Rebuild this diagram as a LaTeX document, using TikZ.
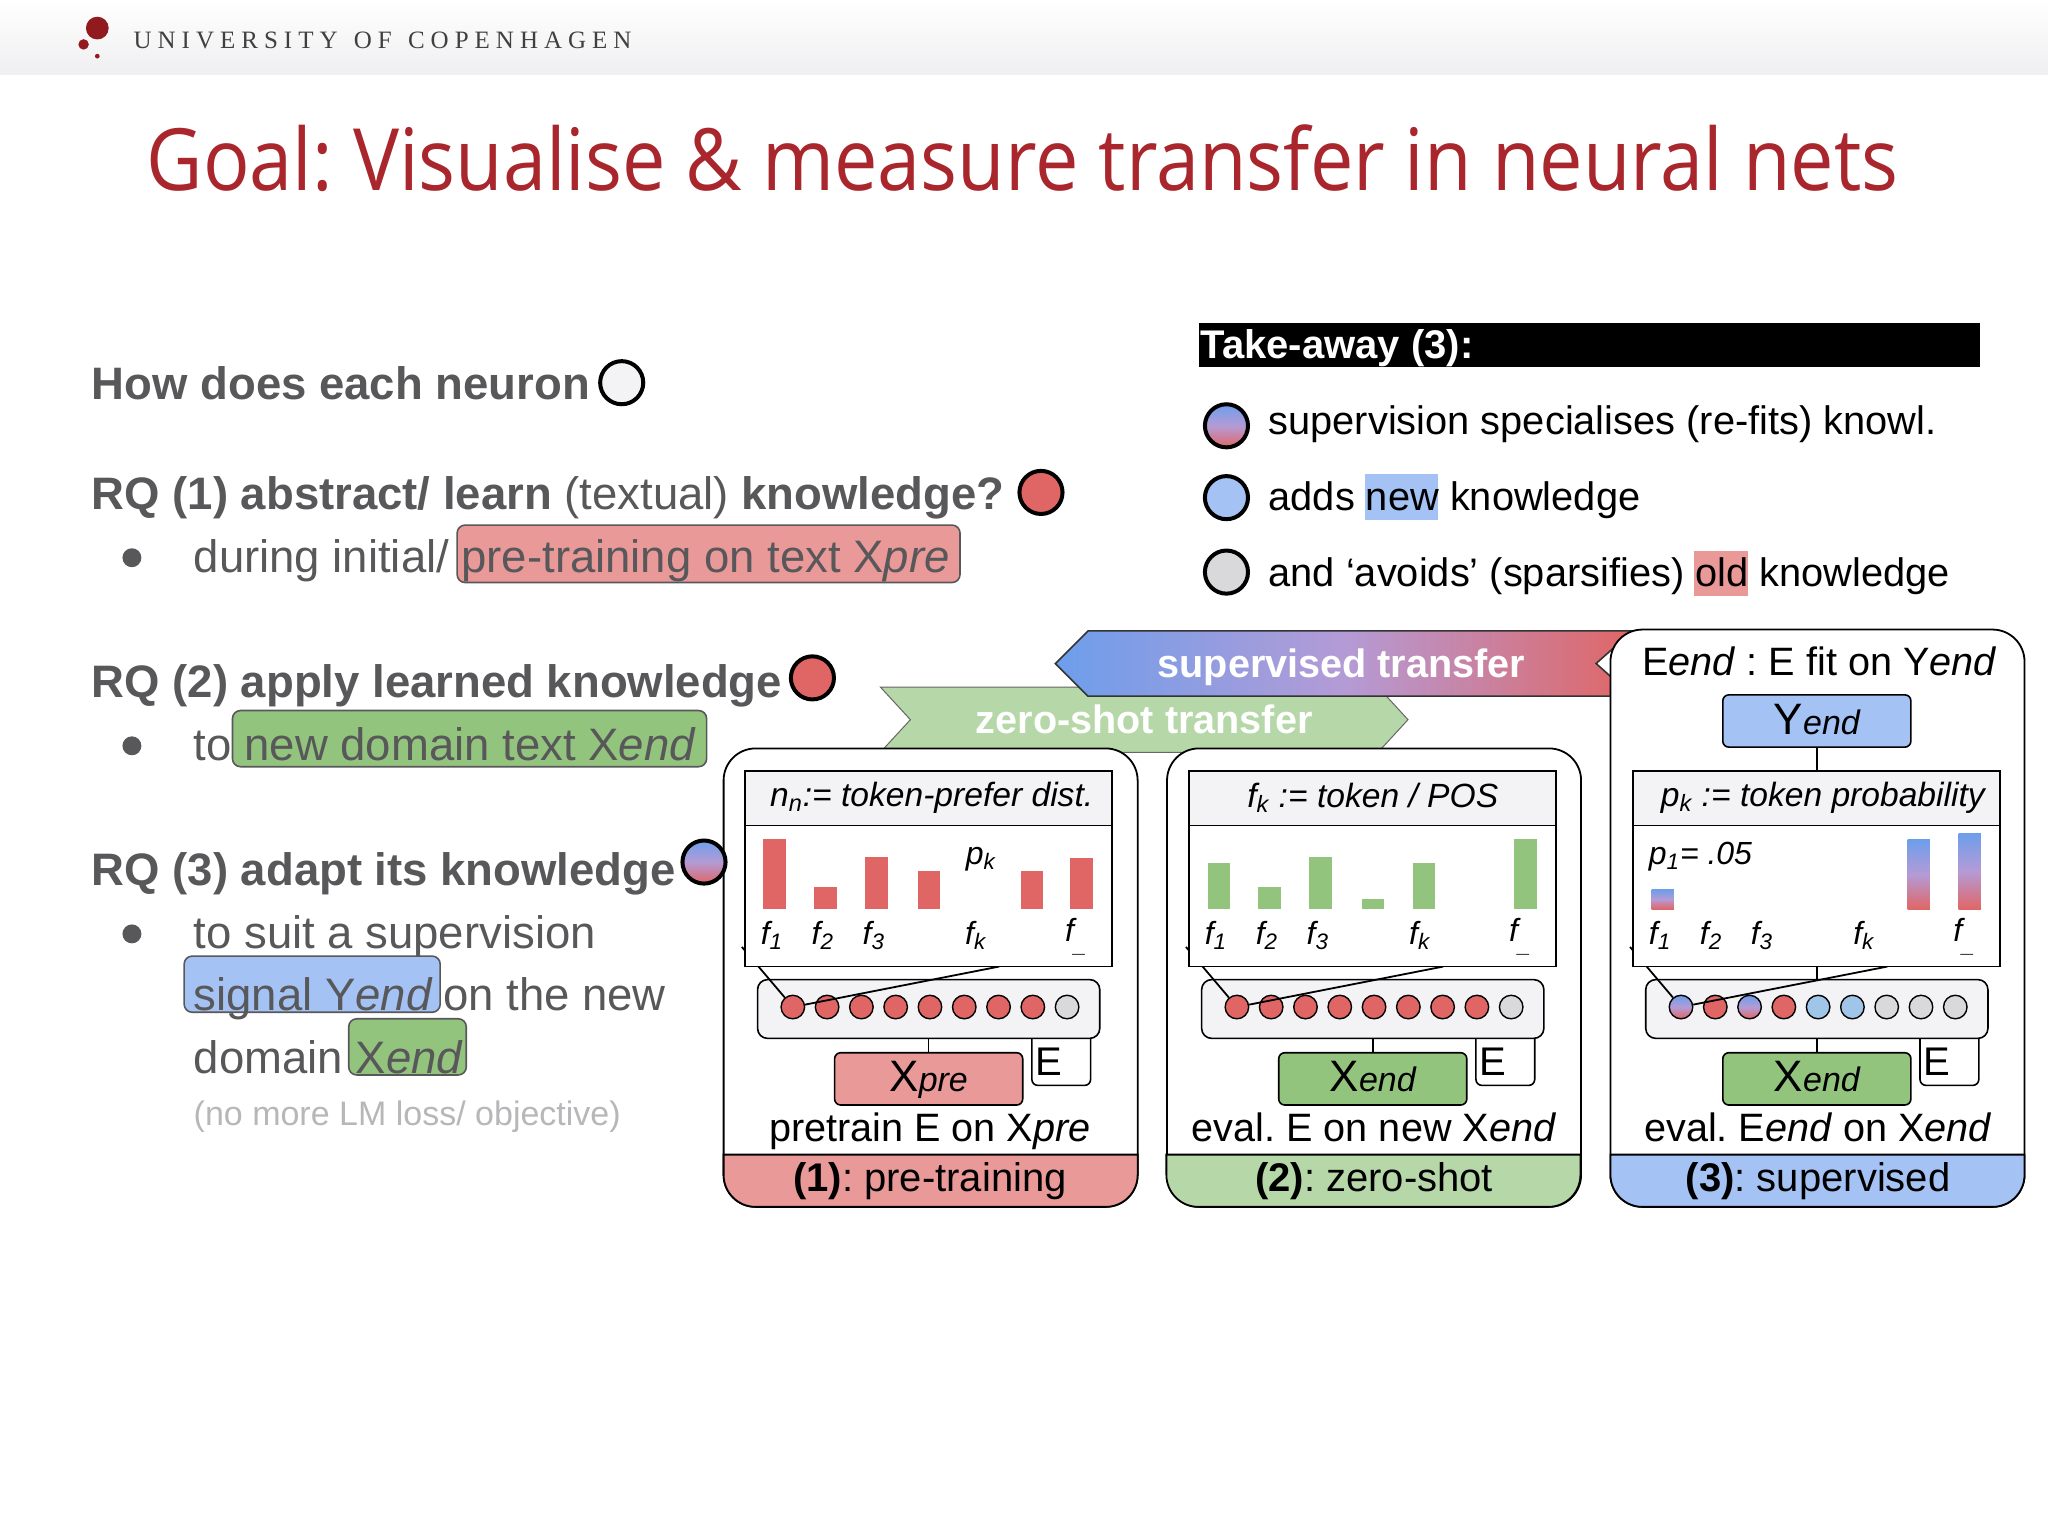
\documentclass[tikz,border=0pt]{standalone}
\usepackage{fontspec}
\setmainfont{Liberation Sans}
\newfontfamily\titlefont{Open Sans}
\newfontfamily\kufont[LetterSpace=24]{Liberation Serif}
\usetikzlibrary{positioning}
\AtBeginDocument{\frenchspacing}

\definecolor{kured}{HTML}{901A1E}
\definecolor{titlered}{HTML}{A8262C}
\definecolor{textgray}{HTML}{58585A}
\definecolor{softgray}{HTML}{B7B7B9}
\definecolor{prered}{HTML}{EA9999}
\definecolor{barred}{HTML}{E06666}
\definecolor{endgreen}{HTML}{93C47D}
\definecolor{lightgreen}{HTML}{B6D7A8}
\definecolor{ylabel}{HTML}{A4C2F4}
\definecolor{gradblue}{HTML}{6D9EEB}
\definecolor{gradmid}{HTML}{B49BD6}
\definecolor{nblueish}{HTML}{9FC5E8}
\definecolor{boxgray}{HTML}{F3F3F5}
\definecolor{bandgray}{HTML}{EFEFF1}
\definecolor{ngrayish}{HTML}{D9D9DB}

\newcommand{\ux}{0.65306pt}
\newcommand{\sufx}[1]{{\fontsize{17}{20}\selectfont\itshape #1}}

\tikzset{
  lefttext/.style={anchor=base west, inner sep=0pt, yshift=-0.65pt, text=textgray, font=\fontsize{22.75}{26}\selectfont},
  taketext/.style={anchor=base west, inner sep=0pt, font=\fontsize{19.9}{23}\selectfont},
  hlbox/.style={draw=textgray, rounded corners=4pt, line width=0.8pt, inner sep=0pt},
  flatbox/.style={inner sep=0pt},
  bigdot/.style={circle, draw=black, line width=2pt, minimum size=33*\ux, inner sep=0pt},
  bulletdot/.style={circle, fill=textgray, minimum size=14.5*\ux, inner sep=0pt},
  gradfill/.style={top color=gradblue, bottom color=barred, middle color=gradmid},
  panelbox/.style={draw=black, fill=white, line width=0.9pt, rounded corners=16pt, minimum width=317*\ux, inner sep=0pt},
  encbox/.style={draw=black, fill=boxgray, line width=0.8pt, rounded corners=5pt, minimum width=262*\ux, minimum height=45*\ux, inner sep=0pt},
  databox/.style={draw=black, line width=0.8pt, rounded corners=3pt, minimum width=144*\ux, minimum height=40*\ux, inner sep=0pt},
  datatextstyle/.style={anchor=base, inner sep=0pt, font=\fontsize{22}{24}\selectfont},
  ebox/.style={draw=black, fill=white, line width=0.8pt, rounded corners=3pt, minimum width=45*\ux, minimum height=46*\ux, inner sep=0pt},
  headbox/.style={draw=black, fill=boxgray, line width=0.9pt, minimum width=281*\ux, minimum height=42*\ux, inner sep=0pt, font=\itshape\fontsize{16.8}{20}\selectfont},
  lowbox/.style={draw=black, fill=white, line width=0.9pt, minimum width=281*\ux, minimum height=108*\ux, inner sep=0pt},
  flabel/.style={inner sep=0pt, font=\itshape\fontsize{16}{19}\selectfont},
  captext/.style={anchor=base, inner sep=0pt, font=\fontsize{19.8}{24}\selectfont},
  neuron/.style={circle, draw=black, line width=0.7pt, minimum size=18*\ux, inner sep=0pt},
  nred/.style={fill=barred}, ngray/.style={fill=ngrayish}, nblue/.style={fill=nblueish}, ngrad/.style={gradfill},
  redbar/.style={fill=barred}, greenbar/.style={fill=endgreen}, gradbar/.style={gradfill},
  bannertext/.style={inner sep=0pt, text=white, font=\bfseries\fontsize{19.8}{24}\selectfont}
}

\begin{document}
\begin{tikzpicture}[x=0.65306pt, y=-0.65306pt]

\useasboundingbox (0,0) rectangle (1568,1176);

% Header band
\shade[top color=white, bottom color=bandgray] (0,0) rectangle (1568,57);
\fill[kured] (74.5,21.5) circle [radius=8.7];
\fill[kured] (64,34) circle [radius=4];
\fill[kured] (74.5,43) circle [radius=1.8];
\node[anchor=base west, inner sep=0pt, text=black!75, font=\kufont\fontsize{12.5}{15}\selectfont] (unilabel) at (102,37.5) {UNIVERSITY\hspace{2pt} OF\hspace{2pt} COPENHAGEN};
\node[anchor=base west, inner sep=0pt, text=titlered, font=\titlefont\fontsize{43}{50}\selectfont] (title) at (112,146) {\scalebox{0.9}[1]{Goal: Visualise \& measure transfer in neural nets}};

% Research questions
\node[lefttext] (howtext) at (70,305) {\textbf{How does each neuron}};
\node[bigdot, fill=boxgray] (howdot) at (476,293) {};

\node[lefttext] (rq1) at (70,389) {\textbf{RQ (1) abstract/ learn} (textual) \textbf{knowledge?}};
\node[bigdot, fill=barred] (rq1dot) at (797,377) {};
\node[bulletdot] (bul1) at (101,427) {};
\node[lefttext] (rq1a) at (148,437) {during initial/};
\node[hlbox, fill=prered, minimum width=385*\ux, minimum height=44*\ux] (hlpre) at (542.5,424) {};
\node[lefttext] (rq1b) at (353,437) {pre-training on text X\textit{pre}};

\node[lefttext] (rq2) at (70,533) {\textbf{RQ (2) apply learned knowledge}};
\node[bigdot, fill=barred] (rq2dot) at (622,519) {};
\node[bulletdot] (bul2) at (101,571) {};
\node[lefttext] (rq2a) at (148,581) {to};
\node[hlbox, fill=endgreen, minimum width=363*\ux, minimum height=43*\ux] (hlend) at (359.5,565.5) {};
\node[lefttext] (rq2b) at (187,581) {new domain text X\textit{end}};

\node[lefttext] (rq3) at (70,677) {\textbf{RQ (3) adapt its knowledge}};
\node[bulletdot] (bul3) at (101,715) {};
\node[lefttext] (rq3a) at (148,725) {to suit a supervision};
\node[hlbox, fill=ylabel, minimum width=196*\ux, minimum height=43*\ux] (hlsig) at (239,753.5) {};
\node[lefttext] (rq3b) at (148,773) {signal Y\textit{end}};
\node[lefttext] (rq3c) at (339,773) {on the new};
\node[lefttext] (rq3d) at (148,821) {domain};
\node[hlbox, fill=endgreen, minimum width=90*\ux, minimum height=43*\ux] (hlx) at (312,801.5) {};
\node[lefttext] (rq3e) at (272,821) {X\textit{end}};
\node[lefttext, text=softgray, font=\fontsize{17}{20}\selectfont] (rq3f) at (148,861) {(no more LM loss/ objective)};

% Take-away
\node[flatbox, fill=black, minimum width=598*\ux, minimum height=34*\ux] (takebar) at (1217,264) {};
\node[anchor=base west, inner sep=0pt, text=white, font=\bfseries\fontsize{20}{23}\selectfont] (taketitle) at (919,274.5) {Take-away (3):};
\node[bigdot, gradfill] (takedot1) at (939,326) {};
\node[taketext] (take1) at (971,333) {supervision specialises (re-fits) knowl.};
\node[flatbox, fill=ylabel, minimum width=56*\ux, minimum height=35*\ux] (hlnew) at (1073,380.5) {};
\node[bigdot, fill=ylabel] (takedot2) at (939,381) {};
\node[taketext] (take2) at (971,391) {adds new knowledge};
\node[flatbox, fill=prered, minimum width=41*\ux, minimum height=34*\ux] (hlold) at (1317.5,439) {};
\node[bigdot, fill=ngrayish] (takedot3) at (939,438) {};
\node[taketext] (take3) at (971,449) {and ‘avoids’ (sparsifies) old knowledge};

% Transfer banners
\draw[draw=black!60, line width=0.5pt, fill=lightgreen] (674,526) -- (1055,526) -- (1078,551) -- (1055,576) -- (674,576) -- (697,551) -- cycle;
\node[bannertext] (zerotext) at (876,551) {zero-shot transfer};
\draw[draw=black!80, line width=0.8pt, left color=gradblue, right color=barred, middle color=gradmid] (808,508) -- (833,483) -- (1250,483) -- (1222,508) -- (1250,533) -- (833,533) -- cycle;
\node[bannertext] (suptext) at (1027,511) {supervised transfer};

\node[panelbox, minimum height=351*\ux] (panel1) at (712.5,748.5) {};
\node[panelbox, minimum height=351*\ux] (panel2) at (1052,748.5) {};
\node[panelbox, minimum height=442*\ux] (panel3) at (1391.5,703) {};

\node[bigdot, gradfill] (rq3dot) at (539,660) {};

% Panels
\foreach \p/\dx/\stripcol/\datacol/\datatext/\headtext/\captext/\num/\striptext/\barstyle/\bars/\neurons in {
  1/0/prered/prered/{X\sufx{pre}}/{\hspace{3pt}n\textsubscript{n}:= token-prefer dist.}/{pretrain E on X\textit{pre}}/1/{pre-training}/redbar/{593/642,632/679,671/656,711/667,790/667,828/657}/{1/nred,2/nred,3/nred,4/nred,5/nred,6/nred,7/nred,8/nred,9/ngray},
  2/340/lightgreen/endgreen/{X\sufx{end}}/{f\textsubscript{k} := token / POS}/{eval. E on new X\textit{end}}/2/{zero-shot}/greenbar/{593/661,632/679,671/656,711/688,750/661,828/642}/{1/nred,2/nred,3/nred,4/nred,5/nred,6/nred,7/nred,8/nred,9/ngray},
  3/680/ylabel/endgreen/{X\sufx{end}}/{\hspace{6pt}p\textsubscript{k} := token probability}/{eval. E\textit{end} on X\textit{end}}/3/{supervised}/gradbar/{593/681,789/643,828/638}/{1/ngrad,2/nred,3/ngrad,4/nred,5/nblue,6/nblue,7/ngray,8/ngray,9/ngray}} {

  % strip along the bottom of the panel
  \pgfmathsetmacro{\sl}{554+\dx-min(\p-1,1)}
  \pgfmathsetmacro{\sr}{\sl+317}
  \draw[fill=\stripcol, line width=0.9pt] (\sl,884) {[rounded corners=16pt] -- (\sl,924) -- (\sr,924)} -- (\sr,884) -- cycle;
  \node[captext, font=\fontsize{20}{24}\selectfont] (strip\p) at ({712+\dx},912) {\textbf{(\num)}: \striptext};
  \node[captext] (cap\p) at ({712+\dx},874) {\captext};

  \node[ebox] (e\p) at ({812.5+\dx},808) {};
  \node[inner sep=0pt, font=\fontsize{20}{24}\selectfont] (elabel\p) at ({803+\dx},813) {E};
  \node[encbox] (enc\p) at ({711+\dx},772.5) {};
  \node[databox, fill=\datacol] (data\p) at ({711+\dx},826) {};
  \node[datatextstyle] (datalabel\p) at ({711+\dx},836) {\datatext};
  \draw[line width=0.8pt] (enc\p) -- (data\p);

  \foreach \i/\c in \neurons {
    \pgfmathsetmacro{\nx}{607+26.25*(\i-1)+\dx}
    \node[neuron, \c] (n\p-\i) at (\nx,771) {};
  }

  \coordinate (upa\p) at ({568+\dx},725);
  \coordinate (upb\p) at ({765+\dx},740);
  \draw[line width=0.9pt] (n\p-1) -- (upa\p);
  \draw[line width=0.9pt] (n\p-1) -- (upb\p);

  \node[lowbox] (low\p) at ({711+\dx},686) {};
  \node[headbox] (head\p) at ({711+\dx},611) {\headtext};

  \foreach \x/\t in \bars {
    \path[\barstyle] ({\x-8.5+\dx},\t) rectangle ({\x+8.5+\dx},696);
  }

  \foreach \l/\x in {1/591,2/630,3/669,k/747} {
    \node[flabel] (f\p-\l) at ({\x+\dx},716) {f\textsubscript{\l}};
  }
  \node[flabel] (f\p-last) at ({824+\dx},717) {f\textsubscript{\raisebox{-3pt}{\_}}};
}

\node[flabel] (pklabel) at (751,658) {p\textsubscript{k}};
\node[flabel, anchor=west] (ponelabel) at (1262,656) {p\textsubscript{1}= .05};

% Panel 3 extras
\node[captext] (fittext) at (1393,517) {E\textit{end} : E fit on Y\textit{end}};
\node[databox, fill=ylabel] (ybox) at (1391,552) {};
\node[datatextstyle] (ylabeltext) at (1391,562) {Y\sufx{end}};
\draw[line width=0.8pt] (ybox) -- (head3);
\draw[line width=0.8pt] (low3) -- (enc3);

\end{tikzpicture}
\end{document}
